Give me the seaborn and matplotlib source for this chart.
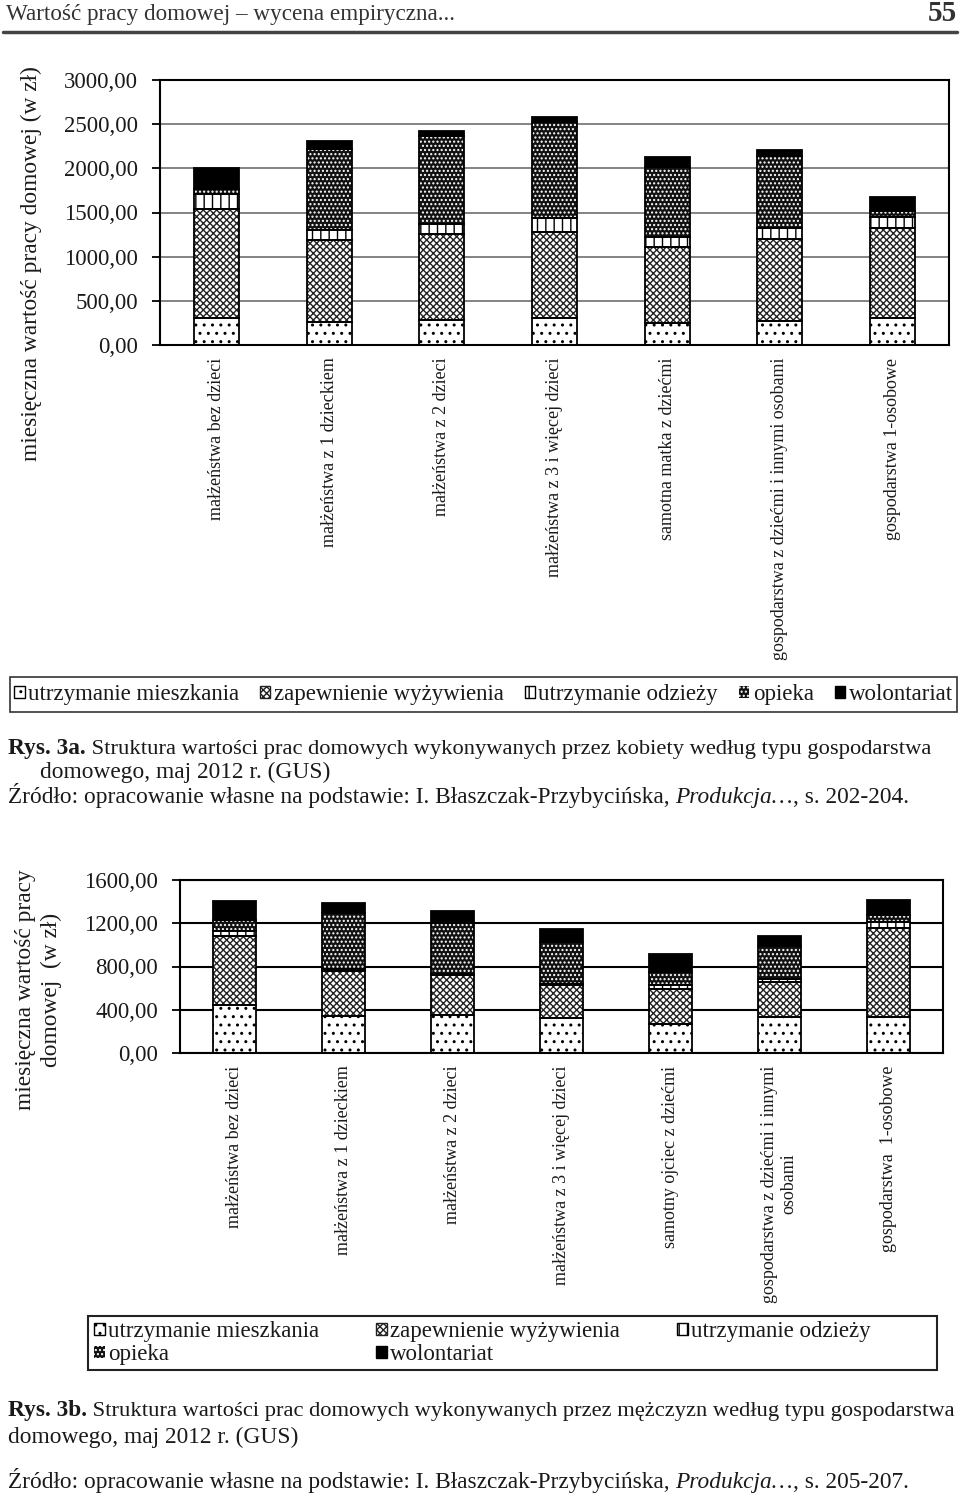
import numpy as np
import pandas as pd
import matplotlib
matplotlib.use("Agg")
import matplotlib.pyplot as plt
import matplotlib.ticker as mticker
from matplotlib.patches import Patch, Rectangle
from matplotlib.lines import Line2D
import seaborn as sns

# ---------------- data ----------------
series = ["utrzymanie mieszkania", "zapewnienie wyżywienia", "utrzymanie odzieży",
          "opieka", "wolontariat"]

cats_a = ["małżeństwa bez dzieci", "małżeństwa z 1 dzieckiem", "małżeństwa z 2 dzieci",
          "małżeństwa z 3 i więcej dzieci", "samotna matka z dziećmi",
          "gospodarstwa z dziećmi i innymi osobami", "gospodarstwa 1-osobowe"]
a_mieszkanie = [309, 264, 287, 302, 245, 268, 306]
a_zywienie = [1231, 925, 973, 973, 861, 928, 1015]
a_odziez = [169, 113, 114, 163, 117, 125, 132]
a_opieka = [61, 913, 992, 1090, 796, 822, 64]
a_wolontariat = [234, 98, 57, 57, 106, 68, 162]
a_ticks = [0, 500, 1000, 1500, 2000, 2500, 3000]

cats_b = ["małżeństwa bez dzieci", "małżeństwa z 1 dzieckiem", "małżeństwa z 2 dzieci",
          "małżeństwa z 3 i więcej dzieci", "samotny ojciec z dziećmi",
          "gospodarstwa z dziećmi i innymi\nosobami", "gospodarstwa  1-osobowe"]
b_mieszkanie = [440, 345, 348, 326, 268, 329, 335]
b_zywienie = [646, 415, 372, 299, 326, 326, 825]
b_odziez = [46, 18, 15, 9, 37, 31, 55]
b_opieka = [99, 514, 465, 391, 117, 308, 62]
b_wolontariat = [172, 93, 111, 120, 163, 92, 135]
b_ticks = [0, 400, 800, 1200, 1600]

# ---------------- style ----------------
sns.set_style("white")
plt.rcParams["font.family"] = ["Liberation Serif", "DejaVu Serif"]
plt.rcParams["hatch.linewidth"] = 1.0
plt.rcParams["text.color"] = "#1a1a1a"

styles = [
    dict(color="white", hatch="..", edgecolor="black"),
    dict(color="white", hatch="xxxxx", edgecolor="#222222"),
    dict(color="white", hatch="||", edgecolor="black"),
    dict(color="#111111", hatch="....", edgecolor="white"),
    dict(color="black", hatch=None, edgecolor="black"),
]

W, H = 960, 1498
fig = plt.figure(figsize=(W / 100, H / 100), dpi=100)

FS = 16.8       # main text size
CAP1_FS = 16.2  # long first caption lines
TICK_FS = 16.5  # y tick labels
XT_FS = 13      # category labels
LEG_FS = 16.5


def fx(px):
    return px / W


def fy(px):
    return 1 - px / H


def stacked(ax, cats, layers, ticks, grid_color, grid_lw):
    bottom = np.zeros(len(cats))
    for vals, st in zip(layers, styles):
        sns.barplot(x=cats, y=vals, bottom=bottom, order=cats, color=st["color"],
                    saturation=1, hatch=st["hatch"], edgecolor=st["edgecolor"],
                    linewidth=0, width=0.4, errorbar=None, ax=ax, zorder=2)
        bottom = bottom + np.asarray(vals, dtype=float)
    bottom = np.zeros(len(cats))
    for vals in layers:
        sns.barplot(x=cats, y=vals, bottom=bottom, order=cats, color="black",
                    fill=False, linewidth=1.3, width=0.4, errorbar=None, ax=ax,
                    zorder=3)
        bottom = bottom + np.asarray(vals, dtype=float)
    ax.set_ylim(ticks[0], ticks[-1])
    ax.set_xlim(-0.5, len(cats) - 0.5)
    ax.set_yticks(ticks)
    ax.yaxis.set_major_formatter(
        mticker.FuncFormatter(lambda v, p: f"{v:.2f}".replace(".", ",")))
    ax.yaxis.grid(True, color=grid_color, lw=grid_lw, zorder=0)
    ax.set_axisbelow(True)
    for s in ax.spines.values():
        s.set_visible(True)
        s.set_color("black")
        s.set_linewidth(1.5)
    ax.set_xlabel("")
    ax.set_ylabel("")
    ax.set_xticks(range(len(cats)))
    ax.set_xticklabels(cats, rotation=90, fontsize=XT_FS, color="#1a1a1a")
    for lab in ax.get_xticklabels():
        lab.set_multialignment("center")
    ax.set_xticks(np.arange(len(cats) + 1) - 0.5, minor=True)
    ax.tick_params(axis="x", which="major", length=0, pad=9)
    ax.tick_params(axis="x", which="minor", length=7, width=1.3, direction="out",
                   color="black")
    ax.tick_params(axis="y", which="major", length=6, width=1.3, direction="out",
                   color="black", labelsize=TICK_FS, pad=10, left=True,
                   labelcolor="#1a1a1a")


def handles_for(order):
    hs = []
    for i in order:
        st = styles[i]
        if st["edgecolor"] == "white":
            hs.append(Patch(facecolor=st["color"], hatch=st["hatch"],
                            edgecolor="white", lw=0))
        else:
            hs.append(Patch(facecolor=st["color"], hatch=st["hatch"],
                            edgecolor=st["edgecolor"], lw=1))
    return hs


def caption_line(y, parts, x0=8):
    """parts: list of (text, kwargs). Placed one after another on a baseline."""
    fig.canvas.draw()
    r = fig.canvas.get_renderer()
    x = x0 / W
    for txt, kw in parts:
        t = fig.text(x, fy(y), txt, va="baseline", ha="left", **kw)
        bb = t.get_window_extent(r)
        x = bb.x1 / W


# ---------------- header ----------------
fig.text(fx(6), fy(20), "Wartość pracy domowej – wycena empiryczna...", fontsize=16.7,
         va="baseline", ha="left", color="#333333")
fig.text(fx(957), fy(21), "55", fontsize=21, fontweight="bold", va="baseline",
         ha="right", color="#333333")
fig.add_artist(Line2D([fx(3), fx(957)], [fy(32), fy(32)], color="#444444", lw=2.5))

# ---------------- chart A ----------------
axA = fig.add_axes([fx(160), fy(345), fx(949) - fx(160), (345 - 80) / H])
stacked(axA, cats_a, [a_mieszkanie, a_zywienie, a_odziez, a_opieka, a_wolontariat],
        a_ticks, "#6e6e6e", 1.2)
fig.text(fx(31), fy(264), "miesięczna wartość pracy domowej (w zł)", rotation=90,
         fontsize=FS, ha="center", va="center")

fig.add_artist(Rectangle((fx(10), fy(712)), fx(957) - fx(10), 35 / H, fill=False,
                         edgecolor="#333333", lw=1.2, transform=fig.transFigure))
fig.legend(handles_for(range(5)), series, loc="center", ncol=5, mode="expand",
           bbox_to_anchor=(fx(12), fy(712), fx(955) - fx(12), 35 / H),
           frameon=False, fontsize=LEG_FS,
           handlelength=0.45, handleheight=0.45, handletextpad=0.15,
           columnspacing=0.3, borderpad=0.1, borderaxespad=0)

# ---------------- caption A ----------------
caption_line(754, [("Rys. 3a.", dict(fontsize=FS, fontweight="bold")),
                   (" Struktura wartości prac domowych wykonywanych przez kobiety według typu gospodarstwa",
                    dict(fontsize=CAP1_FS))])
caption_line(778, [("domowego, maj 2012 r. (GUS)", dict(fontsize=FS))], x0=40)
caption_line(803, [("Źródło: opracowanie własne na podstawie: I. Błaszczak-Przybycińska, ",
                    dict(fontsize=FS)),
                   ("Produkcja…", dict(fontsize=FS, style="italic")),
                   (", s. 202-204.", dict(fontsize=FS))])

# ---------------- chart B ----------------
axB = fig.add_axes([fx(180), fy(1053), fx(943) - fx(180), (1053 - 880) / H])
stacked(axB, cats_b, [b_mieszkanie, b_zywienie, b_odziez, b_opieka, b_wolontariat],
        b_ticks, "black", 1.5)
fig.text(fx(26), fy(990), "miesięczna wartość pracy", rotation=90,
         fontsize=FS, ha="center", va="center")
fig.text(fx(51), fy(990), "domowej  (w zł)", rotation=90,
         fontsize=FS, ha="center", va="center")

fig.add_artist(Rectangle((fx(88), fy(1370)), fx(937) - fx(88), 54 / H, fill=False,
                         edgecolor="#222222", lw=1.5, transform=fig.transFigure))
order_b = [0, 3, 1, 4, 2]
fig.legend(handles_for(order_b), [series[i] for i in order_b], loc="center left",
           ncol=3, bbox_to_anchor=(fx(92), fy(1343)),
           frameon=False, fontsize=LEG_FS,
           handlelength=0.45, handleheight=0.45, handletextpad=0.15,
           columnspacing=2.5, borderpad=0.1, borderaxespad=0, labelspacing=0.08)

caption_line(1416, [("Rys. 3b.", dict(fontsize=FS, fontweight="bold")),
                    (" Struktura wartości prac domowych wykonywanych przez mężczyzn według typu gospodarstwa",
                     dict(fontsize=CAP1_FS))])
caption_line(1443, [("domowego, maj 2012 r. (GUS)", dict(fontsize=FS))])
caption_line(1488, [("Źródło: opracowanie własne na podstawie: I. Błaszczak-Przybycińska, ",
                     dict(fontsize=FS)),
                    ("Produkcja…", dict(fontsize=FS, style="italic")),
                    (", s. 205-207.", dict(fontsize=FS))])

fig.savefig("out.png", dpi=100, facecolor="white")
